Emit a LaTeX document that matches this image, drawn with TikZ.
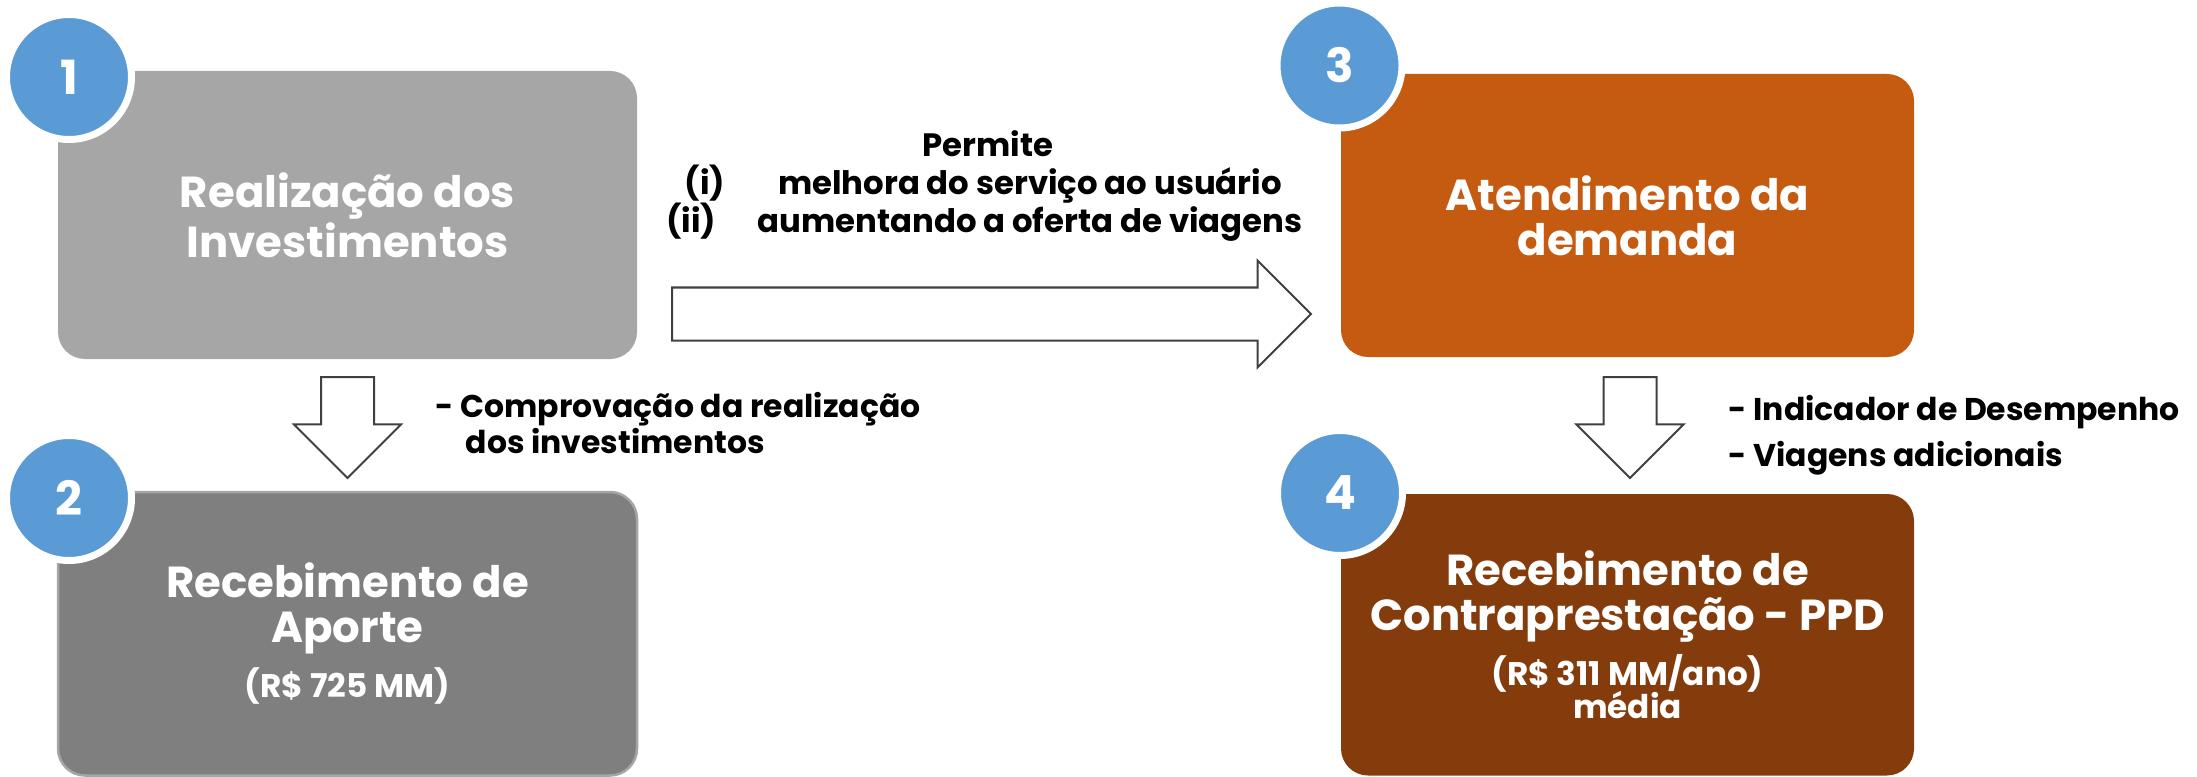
\documentclass[tikz,border=0pt]{standalone}
\usepackage{fontspec}
\setmainfont{Poppins}
\usetikzlibrary{shapes.arrows}
\definecolor{cinzaclaro}{HTML}{A6A6A6}
\definecolor{cinzaescuro}{HTML}{7F7F7F}
\definecolor{laranja}{HTML}{C55A11}
\definecolor{marrom}{HTML}{843C0C}
\definecolor{azul}{HTML}{5B9BD5}
\definecolor{contorno}{HTML}{404040}
\newcommand{\valorfont}{\fontsize{9.3}{9.3}\selectfont}
\begin{document}
\begin{tikzpicture}[
  caixa/.style={rectangle, rounded corners=0.27cm, inner sep=0pt, text=white, align=center,
    font=\fontsize{12.35}{12.8}\selectfont\bfseries},
  numero/.style={circle, fill=azul, draw=white, line width=0.07cm, minimum size=1.25cm,
    inner sep=0pt, text=white, font=\fontsize{13.4}{13.4}\selectfont\bfseries},
  seta/.style={single arrow, draw=contorno, fill=white, line width=0.02cm, inner xsep=0pt,
    inner ysep=0.255cm, single arrow head extend=0.27cm, minimum width=1.05cm, anchor=tail},
  rotulo/.style={font=\fontsize{9.2}{11}\selectfont\bfseries, inner sep=0pt},
  lateral/.style={font=\fontsize{8.95}{11}\selectfont\bfseries, inner sep=0pt, anchor=base west}
]
  \useasboundingbox (0,0) rectangle (21.97,7.76);
  % caixas
  \node[caixa, fill=cinzaclaro, minimum width=5.79cm, minimum height=2.88cm] (invest)
    at (3.475,5.61) {Realização dos\\Investimentos};
  \node[caixa, fill=cinzaescuro, draw=cinzaclaro, line width=0.025cm, minimum width=5.79cm,
    minimum height=2.835cm] (aporte) at (3.475,1.4225)
    {Recebimento de\\Aporte\\[2.85pt]\valorfont (R\$ 725 MM)};
  \node[caixa, fill=laranja, minimum width=5.73cm, minimum height=2.83cm] (demanda)
    at (16.275,5.605) {Atendimento da\\demanda};
  \node[caixa, fill=marrom, minimum width=5.73cm, minimum height=2.815cm] (ppd)
    at (16.275,1.4125)
    {Recebimento de\\Contraprestação - PPD\\[2.85pt]\valorfont (R\$ 311 MM/ano)\\[-3.4pt]\valorfont média};
  % numeros
  \node[numero] (n1) at (0.69,6.99) {1};
  \node[numero] (n2) at (0.69,2.78) {2};
  \node[numero] (n3) at (13.395,7.105) {3};
  \node[numero] (n4) at (13.40,2.83) {4};
  % setas
  \node[seta, minimum height=6.39cm] (seta13) at (6.71,4.62) {};
  \node[seta, minimum height=1.01cm, rotate=-90] (seta12) at (3.475,4.00) {};
  \node[seta, minimum height=1.01cm, rotate=-90] (seta34) at (16.30,4.00) {};
  % textos
  \node[rotulo, anchor=base] (permite) at (9.88,6.19) {Permite};
  \node[rotulo, anchor=base east] (num1) at (7.26,5.81) {(i)};
  \node[rotulo, anchor=base] (item1) at (10.30,5.81) {melhora do serviço ao usuário};
  \node[rotulo, anchor=base east] (num2) at (7.17,5.43) {(ii)};
  \node[rotulo, anchor=base] (item2) at (10.30,5.43) {aumentando a oferta de viagens};
  \node[lateral] (comprov) at (4.35,3.59) {- Comprovação da realização};
  \node[lateral] (comprov2) at (4.65,3.23) {dos investimentos};
  \node[lateral] (indic) at (17.28,3.56) {- Indicador de Desempenho};
  \node[lateral] (viagens) at (17.28,3.10) {- Viagens adicionais};
\end{tikzpicture}
\end{document}
